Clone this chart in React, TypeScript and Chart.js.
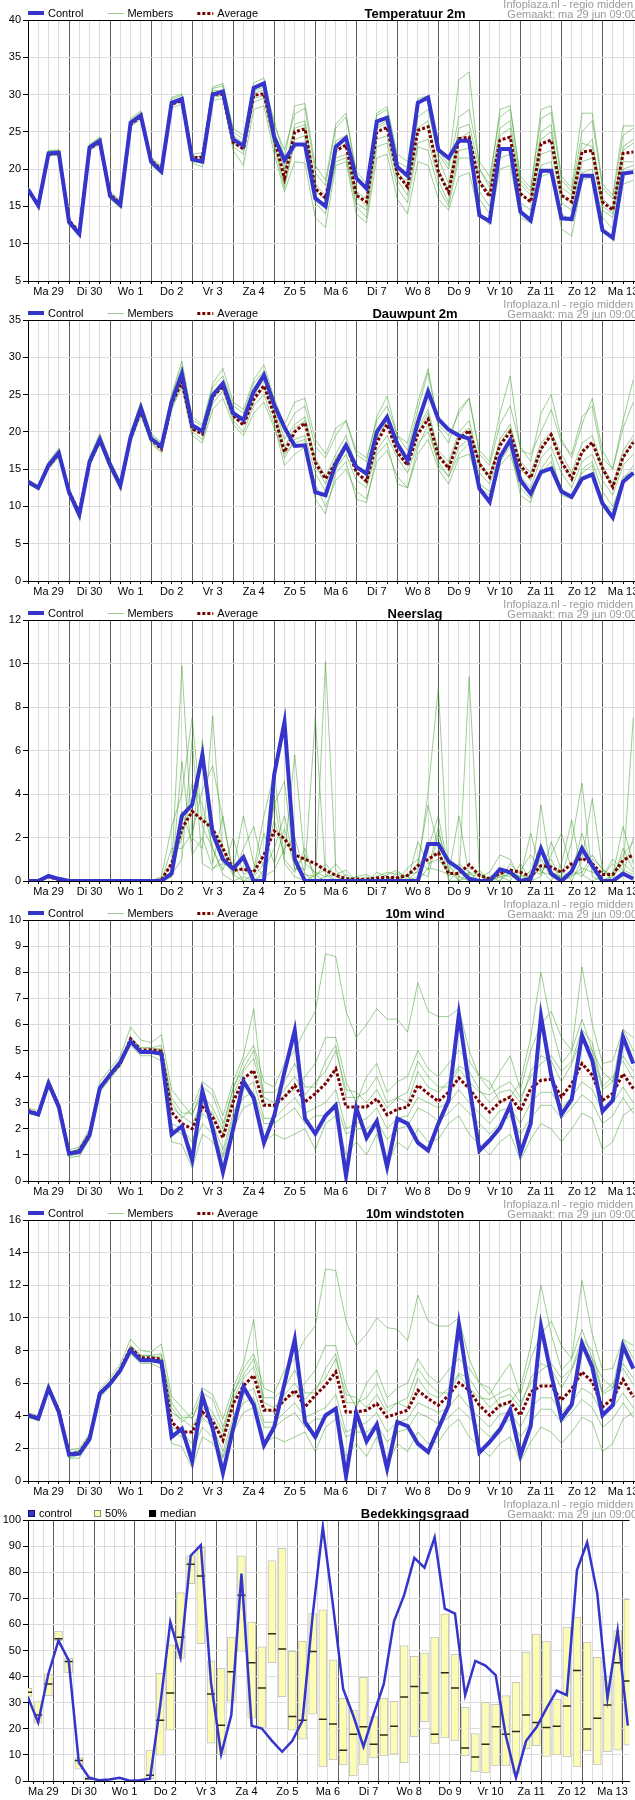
import React, { useEffect, useRef } from "react";
import { Chart, registerables } from "chart.js";

Chart.register(...registerables);

const FONT = "'Liberation Sans', Arial, sans-serif";
Chart.defaults.font.family = FONT;
Chart.defaults.font.size = 11;
Chart.defaults.color = "#000";

// ---------- categories / ticks ----------
const DAY_LABELS = ["Ma 29", "Di 30", "Wo 1", "Do 2", "Vr 3", "Za 4", "Zo 5", "Ma 6", "Di 7", "Wo 8", "Do 9", "Vr 10", "Za 11", "Zo 12", "Ma 13"];
const STEP_H = 6;
const X_MAX_H = 355;
const HOURS = Array.from({ length: 60 }, (_, i) => i * STEP_H);
const LINE_TICKS = Array.from({ length: 60 }, (_, i) => i * STEP_H);
const CLOUD_TICKS = Array.from({ length: 59 }, (_, i) => 3 + i * STEP_H);

// ---------- Temperatuur 2m ----------
const T_CONTROL = [17.3,15.1,22.1,22.2, 12.9,11.3,22.9,23.8, 16.4,15.2,26.2,27.2, 21.0,19.7,28.9,29.4, 21.3,21.0,30.0,30.4, 24.0,23.1,30.9,31.5, 24.3,21.2,23.3,23.3, 16.1,15.0,23.0,24.2, 18.8,17.4,26.4,26.9, 20.3,19.1,28.9,29.6, 22.6,21.5,23.8,23.8, 13.8,13.0,22.7,22.7, 14.3,13.1,19.8,19.8, 13.4,13.3,19.1,19.1, 11.8,10.8,19.4,19.6];
const T_AVG = [17.2,15.2,22.0,22.1, 13.1,11.6,22.8,23.6, 16.6,15.4,26.0,27.0, 21.2,19.9,28.7,29.2, 21.5,21.6,30.1,30.0, 23.6,22.7,29.9,30.1, 24.1,18.8,25.0,25.4, 17.4,16.1,22.5,23.2, 16.5,15.6,25.0,25.6, 19.4,17.6,25.2,25.7, 19.6,16.9,24.1,24.3, 18.3,16.3,23.9,24.3, 16.7,15.6,23.4,23.9, 16.5,15.6,22.3,22.5, 15.6,14.5,22.1,22.3];
const T_M1 = [17.5,15.3,22.4,22.5, 13.2,11.6,23.2,24.2, 16.8,15.6,26.6,27.6, 21.4,20.2,29.4,29.9, 21.8,21.6,30.8,31.2, 25.0,24.0,31.6,32.2, 25.8,22.6,27.4,28.2, 19.5,17.8,25.5,27.0, 19.8,18.0,27.2,28.0, 21.0,20.2,29.0,29.4, 22.0,20.0,27.0,28.0, 21.0,19.0,27.0,28.0, 19.0,17.5,26.8,27.6, 18.5,17.0,25.0,26.5, 17.5,16.0,24.5,25.5];
const T_M2 = [17.0,14.9,21.8,21.9, 12.6,11.0,22.5,23.3, 16.0,14.8,25.7,26.7, 20.6,19.3,28.2,28.7, 20.8,20.3,29.2,29.5, 22.5,20.5,28.0,28.5, 22.0,17.0,21.0,20.8, 13.5,12.2,20.5,21.0, 14.0,12.8,21.5,22.0, 16.0,14.0,21.0,20.5, 16.0,14.5,19.0,19.5, 14.0,12.5,20.0,20.5, 13.5,12.8,19.0,19.5, 12.0,11.0,18.5,19.0, 12.0,10.5,18.0,18.5];
const T_M3 = [17.4,15.2,22.2,22.3, 13.0,11.4,23.0,23.9, 16.5,15.3,26.3,27.3, 21.2,19.8,29.1,29.6, 21.6,21.8,30.5,30.6, 24.5,23.5,30.5,31.0, 24.8,20.0,26.0,26.5, 18.0,16.5,23.8,24.5, 17.0,16.0,25.8,26.5, 19.8,17.5,25.5,26.5, 20.0,17.0,24.0,25.0, 18.5,16.8,24.5,25.5, 17.0,15.5,24.0,25.0, 17.5,16.5,23.5,23.0, 16.0,14.8,22.5,23.5];
const T_M4 = [17.1,15.0,21.9,22.0, 12.8,11.2,22.7,23.6, 16.2,15.0,26.0,27.0, 20.8,19.5,28.6,29.1, 21.0,20.8,29.6,29.9, 23.0,22.0,29.5,29.8, 23.5,18.0,24.0,24.5, 16.5,15.0,21.5,22.0, 15.5,14.5,24.0,24.5, 18.5,16.5,23.5,24.0, 18.5,15.5,22.5,22.8, 17.0,15.0,22.5,23.0, 15.5,14.5,22.0,22.5, 15.5,14.5,21.0,21.5, 14.5,13.5,21.0,21.0];
const T_M5 = [17.3,15.1,22.0,22.1, 12.9,11.3,22.8,23.7, 16.3,15.1,26.1,27.1, 21.0,19.6,28.8,29.3, 21.3,21.2,30.2,30.3, 24.0,23.0,30.2,30.6, 25.0,19.5,25.5,26.0, 17.0,16.0,22.5,23.5, 16.5,15.0,25.5,26.2, 19.0,18.5,27.0,28.0, 21.5,18.0,25.5,26.0, 20.0,17.5,25.5,26.5, 18.0,16.5,25.0,26.0, 16.5,15.5,22.5,24.0, 15.0,14.0,23.0,24.0];
const T_M6 = [17.2,15.0,22.1,22.2, 12.8,11.2,22.9,23.8, 16.4,15.2,26.2,27.2, 21.0,19.7,28.9,29.3, 21.2,20.8,29.8,30.1, 23.5,22.5,29.0,29.5, 23.0,17.5,23.5,23.0, 15.5,14.0,21.0,21.5, 15.0,13.5,23.0,23.5, 17.5,15.5,23.0,22.5, 17.5,15.0,21.5,21.5, 16.0,14.0,21.5,22.0, 14.5,13.5,20.5,21.0, 14.0,13.0,19.5,20.0, 13.5,12.0,20.0,20.5];
const T_M7 = [17.6,15.4,22.5,22.6, 13.3,11.7,23.3,24.3, 17.0,15.8,26.8,27.8, 21.6,20.4,29.6,30.1, 22.0,22.2,31.0,31.5, 25.5,24.5,31.0,31.5, 26.5,21.5,28.5,28.8, 20.5,18.5,26.0,27.5, 19.0,17.0,27.5,28.4, 22.0,21.0,29.5,29.8, 22.5,20.5,32.0,33.0, 20.0,18.0,28.0,28.5, 18.5,17.0,28.0,28.5, 19.0,17.5,27.5,27.5, 18.0,16.5,25.8,25.8];

// ---------- Dauwpunt 2m ----------
const D_CONTROL = [13.3,12.5,15.5,17.2, 11.9,8.9,16.0,19.0, 15.6,12.8,19.3,23.2, 19.1,18.0,24.0,27.8, 20.9,20.1,24.9,26.5, 22.5,21.6,25.4,27.6, 23.6,20.6,18.1,18.2, 11.9,11.5,15.7,18.2, 15.3,14.4,20.0,22.0, 18.4,16.2,21.3,25.4, 21.7,20.3,19.5,19.1, 12.4,10.6,16.6,18.9, 13.5,11.7,14.6,15.1, 12.0,11.3,13.7,14.3, 10.4,8.5,13.3,14.5];
const D_AVG = [13.2,12.6,15.4,17.0, 12.0,9.2,15.9,18.8, 15.5,13.0,19.1,22.8, 19.0,17.7,23.8,26.7, 20.4,19.7,24.7,26.1, 22.2,20.9,24.4,26.2, 22.2,17.3,20.0,21.2, 15.9,13.7,15.9,18.3, 14.6,13.4,18.6,21.0, 17.3,15.5,19.7,21.7, 16.8,15.1,19.0,20.2, 15.7,13.9,18.2,20.0, 15.5,13.8,17.7,19.6, 16.0,13.7,17.3,18.6, 15.1,12.6,16.6,18.6];
const D_M1 = [13.5,12.7,15.8,17.6, 12.2,9.2,16.4,19.5, 16.0,13.2,19.8,23.8, 19.6,18.4,24.8,28.8, 21.6,20.8,26.0,27.5, 23.5,22.5,26.5,28.2, 24.0,20.0,22.5,23.5, 18.0,16.5,19.5,21.5, 17.0,16.0,22.0,24.8, 19.5,17.5,23.0,28.0, 20.5,18.5,23.0,24.5, 17.0,15.5,21.0,23.5, 18.0,16.0,22.5,25.0, 19.0,16.5,21.0,24.5, 17.5,15.0,20.5,24.0];
const D_M2 = [13.1,12.3,15.2,16.8, 11.6,8.6,15.6,18.5, 15.2,12.4,18.8,22.5, 18.6,17.4,23.2,26.5, 20.0,19.0,23.8,25.5, 21.5,20.0,23.5,25.0, 21.0,15.5,17.0,18.0, 13.0,10.0,13.5,15.0, 12.0,11.0,16.0,17.5, 14.0,12.5,17.0,19.0, 15.0,13.0,16.5,17.0, 13.0,12.0,15.5,17.0, 12.5,11.0,14.5,16.0, 12.5,11.0,15.0,16.0, 12.0,10.0,13.5,15.5];
const D_M3 = [13.4,12.6,15.6,17.4, 12.0,9.0,16.2,19.2, 15.8,13.0,19.5,23.5, 19.3,18.2,24.3,28.0, 21.0,20.3,25.2,26.8, 22.8,21.8,25.5,27.8, 23.5,19.0,21.0,22.0, 16.5,14.0,17.0,19.5, 15.5,14.0,19.5,22.0, 18.0,16.0,20.5,23.0, 17.5,16.0,20.0,21.5, 16.0,14.0,19.0,21.0, 16.0,14.5,18.5,20.0, 17.0,14.5,18.5,19.5, 15.5,13.0,17.5,19.5];
const D_M4 = [13.2,12.4,15.3,17.0, 11.8,8.8,15.8,18.8, 15.4,12.6,19.0,22.8, 18.9,17.8,23.6,27.0, 20.5,19.5,24.5,26.0, 22.0,21.0,24.0,26.0, 22.5,16.5,19.0,19.5, 14.5,12.0,15.0,17.0, 13.5,12.5,17.5,19.5, 16.5,14.5,18.5,20.0, 16.0,14.0,18.0,19.0, 14.5,13.0,17.0,18.5, 14.0,12.5,16.5,18.0, 14.5,12.5,16.0,17.0, 13.5,11.5,15.5,17.0];
const D_M5 = [13.3,12.5,15.5,17.2, 11.9,8.9,16.0,19.0, 15.6,12.8,19.3,23.2, 19.1,18.0,24.0,27.5, 20.8,20.0,25.0,26.5, 22.5,21.5,24.8,27.0, 23.0,18.0,20.5,21.5, 15.5,13.0,16.5,18.5, 14.5,13.0,19.0,21.5, 17.0,15.5,20.0,22.5, 17.0,15.5,19.5,20.5, 15.5,14.0,18.5,20.5, 15.0,13.5,17.5,19.5, 16.0,14.0,17.0,18.5, 15.0,12.5,16.5,19.0];
const D_M6 = [13.0,12.2,15.0,16.6, 11.5,8.4,15.4,18.4, 15.0,12.2,18.6,22.2, 18.4,17.2,23.0,26.0, 19.5,18.5,23.0,24.5, 21.0,19.5,22.5,24.0, 20.5,17.0,18.5,19.0, 11.0,9.0,14.5,16.0, 11.0,10.5,17.0,18.5, 13.0,12.5,18.0,21.0, 15.5,14.0,17.0,18.5, 12.5,11.5,16.0,18.0, 11.5,10.5,15.0,17.0, 11.5,11.0,14.5,15.5, 10.5,9.5,14.0,14.5];
const D_M7 = [13.6,12.8,16.0,17.8, 12.4,9.4,16.6,19.8, 16.2,13.4,20.0,24.0, 19.8,18.6,25.0,29.5, 22.0,21.0,26.5,28.5, 24.0,23.0,27.0,29.0, 24.5,21.0,24.0,24.5, 19.0,17.0,20.5,21.5, 17.5,16.5,21.5,23.5, 19.5,18.5,24.0,28.5, 21.0,19.5,22.5,24.5, 17.5,16.0,22.5,27.5, 17.5,17.0,20.0,23.0, 18.5,17.0,22.0,23.5, 16.5,15.0,21.5,27.0];

// ---------- Neerslag ----------
const P_CONTROL = [0,0,0.23,0.1, 0,0,0,0, 0,0,0,0, 0,0,0.34,3.0, 3.5,5.8,2.2,1.0, 0.57,1.1,0,0, 4.9,7.3,1.0,0, 0,0,0,0, 0,0,0,0, 0,0,0,1.7, 1.7,0.9,0.57,0.1, 0,0,0.54,0.4, 0,0.1,1.5,0.34, 0,0.44,1.5,0.7, 0,0,0.34,0.1];
const P_AVG = [0,0,0.2,0.05, 0,0,0,0, 0,0,0,0, 0,0.05,0.8,2.4, 3.2,2.8,2.4,1.5, 0.5,0.55,0.4,1.2, 2.3,1.95,1.2,1.0, 0.8,0.5,0.26,0.1, 0.08,0.08,0.14,0.17, 0.15,0.26,0.7,1.0, 1.3,0.34,0.34,0.75, 0.26,0.1,0.34,0.5, 0.4,0.2,0.7,0.65, 0.4,0.8,1.05,0.8, 0.3,0.3,0.95,1.2];
const P_M1 = [0,0,0.2,0.1, 0,0,0,0, 0,0,0,0, 0,0,0.5,9.9, 2.0,1.5,7.6,1.0, 0.3,0,0,0.5, 1.5,3.0,0.8,0.5, 7.5,0.3,0,0, 0,0,0,0.3, 0.5,0,0.2,1.5, 3.0,0.5,0,0.4, 0,0,0.2,0, 0.8,0,3.5,0.4, 0.2,1.8,4.5,0.2, 0,0.3,2.5,0.8];
const P_M2 = [0,0,0.15,0.05, 0,0,0,0, 0,0,0,0, 0,0.2,2.5,4.0, 7.5,2.5,1.5,0.5, 2.0,0.3,0.5,3.0, 5.0,1.0,0.4,1.5, 0,10.1,0.5,0, 0.2,0,0,0, 0,0.6,1.0,0.5, 2.5,0,0,9.4, 0.4,0,0,0.8, 0.3,0,0.2,1.8, 0.5,0,1.0,3.8, 0.5,0,0.4,7.5];
const P_M3 = [0,0,0.25,0.1, 0,0,0,0, 0,0,0,0, 0,0,1.5,1.5, 2.2,4.2,5.3,2.8, 0.4,0.6,0.2,0.8, 2.8,1.2,5.8,0.8, 0.4,0.2,0.8,0.2, 0,0,0.4,0.2, 0,0,0.5,4.1, 8.9,0,0.5,0.3, 0.2,0.4,1.2,1.0, 0,0.5,0.3,1.2, 2.2,0.5,0.2,1.0, 0.6,0,1.5,0.5];
const P_M4 = [0,0,0.2,0.1, 0,0,0,0, 0,0,0,0, 0,0,0.2,3.2, 1.8,6.5,0.8,3.0, 0.2,1.5,2.5,0.5, 3.5,4.6,0.5,1.2, 0.3,0.5,0,0.3, 0,0.2,0,0, 0.2,0,1.8,0.8, 1.0,0.4,0.2,0, 0.5,0,0.3,0.2, 0.5,1.2,0.5,0, 0.8,2.8,0.3,0, 0.2,0.8,0.3,2.0];
const P_M5 = [0,0,0.2,0.05, 0,0,0,0, 0,0,0,0, 0,0,0.3,1.0, 6.5,0.8,0.5,1.2, 0.8,0,0.3,2.2, 0.8,2.4,0.6,0.3, 0.2,0.8,0.2,0, 0,0,0.2,0.4, 0.3,0.2,0,0.6, 0.5,0.3,3.0,0.2, 0,0.2,0.5,0.3, 0.2,0.4,1.0,0.2, 0,0.2,0.6,0.4, 0.2,1.0,0.5,0.3];
const P_M6 = [0,0,0.2,0.1, 0,0,0,0, 0,0,0,0, 0,0.1,0.8,2.0, 4.5,3.5,1.5,0.3, 0,0.2,0,0.3, 3.8,0.8,0.2,0, 0.3,0,0,0, 0.2,0.3,0,0.2, 0,0.3,0.4,0.2, 2.2,0.8,0,0.2, 0,0.2,0,0.4, 0.2,2.2,0.4,0.3, 0.2,0.4,2.2,0.6, 0,0.2,0.8,0.4];
const P_M7 = [0,0,0.2,0.1, 0,0,0,0, 0,0,0,0, 0,0,0.2,5.5, 1.2,2.0,0.6,0.8, 0.6,3.0,0.8,0.2, 0.5,1.5,2.0,0.3, 0,0.2,0.3,0.5, 0,0,0,0, 0.4,0.2,0.8,3.5, 1.5,0.2,0.8,0.4, 0.3,0,0.2,0.3, 0,0.3,0.5,1.0, 0,0.3,0.4,1.2, 0.5,0.3,1.2,1.8];

// ---------- 10m wind ----------
const W_CONTROL = [2.67,2.55,3.75,2.84, 1.05,1.11,1.75,3.56, 4.07,4.56,5.35,4.94, 4.94,4.88,1.78,2.1, 0.8,3.44,2.0,0.34, 2.0,3.82,3.18,1.46, 2.5,4.18,5.77,2.39, 1.81,2.5,2.9,0.19, 2.8,1.65,2.29,0.54, 2.39,2.2,1.47,1.17, 2.2,3.09,6.37,3.67, 1.17,1.56,2.03,2.9, 1.07,2.2,6.32,4.05, 2.55,3.13,5.58,4.62, 2.67,3.09,5.52,4.5];
const W_AVG = [2.7,2.58,3.73,2.9, 1.05,1.17,1.81,3.54, 4.05,4.5,5.45,5.0, 5.03,4.97,2.64,2.2, 2.0,2.84,2.45,1.65, 3.03,3.92,4.24,2.9, 2.9,3.22,3.67,3.03, 3.35,3.73,4.3,2.84, 2.84,2.84,3.15,2.54, 2.75,2.84,3.67,3.35, 3.05,3.41,3.95,3.54, 3.03,2.64,3.03,3.22, 2.7,3.54,3.86,3.9, 3.22,3.73,4.5,4.05, 3.09,3.35,4.11,3.54];
const W_M1 = [2.8,2.7,3.9,3.0, 1.2,1.3,2.0,3.8, 4.3,4.8,5.9,5.4, 5.3,5.6,3.5,3.0, 2.5,3.6,3.3,2.2, 3.5,4.6,5.2,3.8, 3.6,4.5,5.0,5.8, 6.5,8.7,8.6,6.5, 5.5,6.0,6.6,6.2, 6.2,5.7,7.6,6.5, 6.3,6.3,6.6,5.0, 4.0,3.5,4.2,4.8, 3.5,5.0,6.0,6.5, 5.5,5.0,6.2,5.0, 4.2,3.8,5.8,5.5];
const W_M2 = [2.6,2.5,3.6,2.75, 0.9,0.95,1.6,3.4, 3.9,4.4,5.2,4.8, 4.8,4.6,1.5,1.4, 0.5,1.8,1.5,0.9, 2.0,2.8,3.0,1.5, 1.8,1.6,1.8,2.0, 1.2,2.2,2.5,1.0, 1.5,1.0,1.8,0.6, 1.5,1.2,2.0,1.5, 1.6,2.2,2.5,1.8, 1.4,1.0,1.5,1.8, 0.8,1.6,2.2,2.0, 1.5,2.0,2.6,2.4, 1.2,1.5,2.5,2.8];
const W_M3 = [2.7,2.6,3.8,2.9, 1.1,1.2,1.8,3.6, 4.1,4.6,5.5,5.1, 5.1,5.0,2.8,2.5, 2.2,3.0,2.6,1.8, 3.3,4.2,4.7,3.2, 3.0,3.5,4.0,3.3, 3.8,4.2,5.0,3.5, 3.4,3.0,3.5,2.8, 3.2,3.0,4.2,3.6, 3.4,3.8,4.4,4.2, 3.5,3.0,3.4,3.5, 3.0,4.2,4.8,4.6, 3.8,4.5,5.5,5.0, 3.5,3.8,4.8,4.2];
const W_M4 = [2.65,2.55,3.7,2.85, 1.0,1.1,1.75,3.5, 4.0,4.5,5.4,5.0, 5.0,4.9,2.2,2.0, 1.5,2.6,2.2,1.2, 2.6,3.5,3.8,2.4, 2.4,2.8,3.2,2.6, 2.8,3.0,3.5,2.0, 2.2,2.4,2.8,2.0, 2.4,2.5,3.2,3.0, 2.8,3.0,3.5,3.0, 2.6,2.2,2.7,2.8, 2.2,3.0,3.4,3.4, 2.8,3.2,3.8,3.5, 2.7,3.0,3.6,3.0];
const W_M5 = [2.75,2.6,3.8,2.95, 1.1,1.25,1.9,3.6, 4.1,4.5,5.5,5.1, 5.1,5.2,3.2,2.6, 2.6,3.3,2.8,2.0, 3.6,4.3,5.0,3.4, 3.4,3.8,4.5,3.6, 3.6,4.6,5.2,3.2, 3.2,3.4,4.0,3.0, 3.2,3.4,4.6,4.0, 3.6,3.6,4.3,3.8, 3.4,3.3,3.6,3.8, 3.2,4.0,4.5,4.8, 4.2,4.6,5.8,5.3, 3.6,4.0,4.6,3.9];
const W_M6 = [2.6,2.5,3.65,2.8, 0.95,1.05,1.7,3.5, 4.0,4.4,5.3,4.9, 4.9,4.8,2.0,1.8, 1.2,2.2,1.8,1.0, 2.4,3.2,3.4,2.2, 2.2,2.5,2.8,2.2, 2.5,2.5,3.0,1.8, 2.0,2.0,2.3,1.6, 2.0,2.1,2.8,2.6, 2.3,2.6,3.0,2.6, 2.2,1.8,2.2,2.5, 1.8,2.4,2.9,2.9, 2.4,2.8,3.3,3.0, 2.2,2.5,3.2,2.6];
const W_M7 = [2.7,2.6,3.75,2.9, 1.05,1.15,1.85,3.55, 4.05,4.5,5.4,5.0, 5.0,5.1,3.0,2.4, 2.8,3.8,3.5,2.5, 3.8,4.8,6.6,3.0, 2.8,3.3,3.5,4.0, 4.5,5.5,5.5,3.8, 3.0,4.0,4.5,3.4, 3.8,4.0,5.0,4.3, 4.0,4.5,5.0,4.6, 4.0,3.8,3.0,3.2, 3.8,5.5,8.0,6.0, 4.5,5.0,8.2,6.0, 4.5,4.6,5.8,5.0];

// ---------- 10m windstoten ----------
const G_CONTROL = [4.03,3.82,5.7,4.23, 1.62,1.68,2.56,5.36, 5.97,6.79,8.02,7.4, 7.4,7.3,2.7,3.21, 1.21,5.21,3.21,0.49, 3.21,5.77,4.68,2.19, 3.31,5.97,8.67,3.62, 2.7,4.03,4.44,0.29, 4.19,2.43,3.46,0.76, 3.62,3.37,2.29,1.78, 3.21,4.64,9.59,5.46, 1.74,2.39,3.15,4.38, 1.57,3.37,9.51,6.52, 3.82,4.68,8.43,6.99, 4.03,4.64,8.28,6.89];
const G_AVG = [4.07,3.86,5.66,4.34, 1.68,1.74,2.64,5.36, 5.97,6.85,8.16,7.55, 7.55,7.46,3.62,3.0, 3.0,4.23,3.66,2.49, 4.74,5.83,6.48,4.34, 4.34,4.95,5.56,4.54, 5.26,5.87,6.69,4.23, 4.23,4.34,4.74,3.93, 4.13,4.34,5.56,5.05, 4.64,5.26,6.03,5.56, 4.64,4.03,4.64,4.85, 4.03,5.46,5.83,5.83, 4.95,5.66,6.69,6.07, 4.54,5.05,6.22,5.15];
const G_M1 = [4.2,4.0,5.9,4.5, 1.9,2.0,2.9,5.6, 6.3,7.2,8.7,8.0, 7.9,8.4,5.2,4.5, 3.8,5.4,5.0,3.3, 5.3,6.9,7.8,5.7, 5.4,6.8,7.5,8.7, 9.5,13.0,12.9,9.8, 8.3,9.0,10.0,9.4, 9.3,8.6,11.4,9.8, 9.5,9.5,10.0,7.5, 6.0,5.3,6.3,7.2, 5.3,7.5,9.0,9.8, 8.3,7.5,9.3,7.5, 6.3,5.7,8.7,8.3];
const G_M2 = [3.9,3.7,5.5,4.1, 1.4,1.4,2.4,5.1, 5.8,6.6,7.8,7.2, 7.2,6.9,2.3,2.1, 0.8,2.7,2.3,1.4, 3.0,4.2,4.5,2.3, 2.7,2.4,2.7,3.0, 1.8,3.3,3.8,1.5, 2.3,1.5,2.7,0.9, 2.3,1.8,3.0,2.3, 2.4,3.3,3.8,2.7, 2.1,1.5,2.3,2.7, 1.2,2.4,3.3,3.0, 2.3,3.0,3.9,3.6, 1.8,2.3,3.8,4.2];
const G_M3 = [4.1,3.9,5.8,4.4, 1.7,1.8,2.7,5.4, 6.1,6.9,8.3,7.7, 7.7,7.5,4.2,3.8, 3.3,4.5,3.9,2.7, 5.0,6.3,7.0,4.8, 4.5,5.3,6.0,5.0, 5.7,6.3,7.5,5.3, 5.1,4.5,5.3,4.2, 4.8,4.5,6.3,5.4, 5.1,5.7,6.6,6.3, 5.3,4.5,5.1,5.3, 4.5,6.3,7.2,6.9, 5.7,6.8,8.3,7.5, 5.3,5.7,7.2,6.3];
const G_M4 = [4.0,3.8,5.6,4.3, 1.6,1.7,2.6,5.3, 6.0,6.8,8.1,7.5, 7.5,7.4,3.3,3.0, 2.3,3.9,3.3,1.8, 3.9,5.3,5.7,3.6, 3.6,4.2,4.8,3.9, 4.2,4.5,5.3,3.0, 3.3,3.6,4.2,3.0, 3.6,3.8,4.8,4.5, 4.2,4.5,5.3,4.5, 3.9,3.3,4.1,4.2, 3.3,4.5,5.1,5.1, 4.2,4.8,5.7,5.3, 4.1,4.5,5.4,4.5];
const G_M5 = [4.1,3.9,5.7,4.4, 1.7,1.9,2.8,5.4, 6.1,6.8,8.3,7.7, 7.7,7.8,4.8,3.9, 3.9,5.0,4.2,3.0, 5.4,6.5,7.5,5.1, 5.1,5.7,6.8,5.4, 5.4,6.9,7.8,4.8, 4.8,5.1,6.0,4.5, 4.8,5.1,6.9,6.0, 5.4,5.4,6.5,5.7, 5.1,5.0,5.4,5.7, 4.8,6.0,6.8,7.2, 6.3,6.9,8.7,8.0, 5.4,6.0,6.9,5.9];
const G_M6 = [3.9,3.75,5.5,4.2, 1.4,1.6,2.55,5.25, 6.0,6.6,8.0,7.35, 7.35,7.2,3.0,2.7, 1.8,3.3,2.7,1.5, 3.6,4.8,5.1,3.3, 3.3,3.8,4.2,3.3, 3.8,3.8,4.5,2.7, 3.0,3.0,3.5,2.4, 3.0,3.2,4.2,3.9, 3.5,3.9,4.5,3.9, 3.3,2.7,3.3,3.8, 2.7,3.6,4.4,4.4, 3.6,4.2,5.0,4.5, 3.3,3.8,4.8,3.9];
const G_M7 = [4.05,3.9,5.6,4.35, 1.6,1.7,2.8,5.3, 6.1,6.8,8.1,7.5, 7.5,7.7,4.5,3.6, 4.2,5.7,5.3,3.8, 5.7,7.2,9.9,4.5, 4.2,5.0,5.3,6.0, 6.8,8.3,8.3,5.7, 4.5,6.0,6.8,5.1, 5.7,6.0,7.5,6.5, 6.0,6.8,7.5,6.9, 6.0,5.7,4.5,4.8, 5.7,8.3,12.0,9.0, 6.8,7.5,12.3,9.0, 6.8,6.9,8.7,7.5];

// ---------- Bedekkingsgraad ----------
const C_CONTROL = [32,22.4,41,53.8, 46.2,7.1,1.3,0.3, 0.6,1.2,0.1,0.3, 0.9,28.8,60.9,47.4, 86.3,90.4,37.8,10.3, 25.3,79.5,21.2,20.1, 15.4,11.2,15.4,23.1, 63.5,97.4,67.3,35.3, 25,13.2,25.6,37.2, 61.2,71.2,85.5,81.7, 93.3,66,64.1,32.9, 46,44.2,40.6,17.3, 1.3,15.4,20.5,27.8, 34.6,32.9,80.8,91.4, 71.8,31.7,57.6,21.2];
const C_LOW = [32.4,22.2,32.7,53.8, 41.4,4.5,0.4,null, null,null,null,null, 0.9,9.9,19.5,47, 75.6,52.6,14.5,10.1, 30.6,49.6,24.1,20.5, 45.3,32.3,19.5,16, 25.6,5.4,8.1,6.2, 1.9,6.2,8.8,9.6, 10.3,6.9,17,22.7, 14.2,16.5,15.4,9.6, 3.6,3.1,5.8,5.8, 2.9,12.4,13.5,9.4, 10,9.2,5.4,11.5, 6.2,11.2,11.8,13.7];
const C_HIGH = [35.5,30.4,41,57.4, 47,9,1.7,null, null,null,null,null, 11.8,41.3,52.2,72.2, 86.3,89.5,46,43.3, 55.1,86.3,60.9,51.4, 84.5,89.1,49.7,53.6, 64.1,65.6,46.4,31.7, 27.2,39.7,24.7,31.7, 30.5,51.9,47.8,49.1, 55.1,64,48.6,28.2, 18.2,30.1,29.4,32.7, 37.8,49.4,56.3,53.6, 31.4,59,62.8,53.2, 47.4,40.1,57.6,69.6];
const C_MEDIAN = [34,25.3,37.2,54.5, 45.8,7.9,0.9,null, null,null,null,null, 2.2,23.3,33.7,55.1, 83,78.5,33.3,21.4, 41.9,71.2,45.3,35.6, 56.4,50.6,24.7,23.3, 49.6,23.7,21.8,11.8, 17.9,20.8,14.1,17.6, 21,32.2,36.2,33.7, 17.9,41.5,35.6,12.6, 9.2,14.1,20.8,17.9, 19,25.3,22.4,20.5, 21,28.7,42.3,19.9, 24,29.1,45.3,38.3];

// ---------- styles ----------
const W = 635;
const H = 300;
const PLOT_TOP = 20;
const Y_AXIS_W = 28;
const X_AXIS_H = 19;
const CONTROL_COLOR = "#3535cc";
const MEMBER_COLOR = "rgba(60,160,40,0.5)";
const MEMBER_LEGEND = "rgba(60,160,40,0.55)";
const AVG_COLOR = "#7a0000";
const MINOR_GRID = "#dcdcdc";
const MAJOR_GRID = "#5e5e5e";
const BOX_FILL = "#fcfcb4";
const BOX_BORDER = "#c4c4c4";
const MEDIAN_COLOR = "#2b2b10";

const toXY = (vals: (number | null)[]) => vals.map((v, i) => ({ x: HOURS[i], y: v }));

type Item = { label: string; kind: "line" | "box"; color: string; width?: number; dash?: number[]; border?: string };

function makeHeader(title: string, items: Item[]) {
  return {
    id: "header",
    afterDraw(chart: any) {
      const { ctx, chartArea: a } = chart;
      ctx.save();
      ctx.setLineDash([]);
      ctx.strokeStyle = "#000";
      ctx.lineWidth = 1;
      const ty = Math.round(a.top) + 0.5;
      ctx.beginPath();
      ctx.moveTo(a.left, ty);
      ctx.lineTo(a.right, ty);
      ctx.stroke();

      ctx.font = `11px ${FONT}`;
      ctx.textBaseline = "alphabetic";
      ctx.textAlign = "left";
      let x = 28;
      for (const it of items) {
        let tx: number;
        if (it.kind === "line") {
          const w = it.width || 1;
          const y = w % 2 ? 13.5 : 13;
          ctx.save();
          ctx.strokeStyle = it.color;
          ctx.lineWidth = w;
          ctx.setLineDash(it.dash || []);
          ctx.beginPath();
          ctx.moveTo(x, y);
          ctx.lineTo(x + 16, y);
          ctx.stroke();
          ctx.restore();
          tx = x + 20;
        } else {
          ctx.fillStyle = it.color;
          ctx.fillRect(x, 10, 7, 7);
          ctx.strokeStyle = it.border || it.color;
          ctx.lineWidth = 1;
          ctx.strokeRect(x + 0.5, 10.5, 6, 6);
          tx = x + 11;
        }
        ctx.fillStyle = "#000";
        ctx.fillText(it.label, tx, 17);
        x = tx + ctx.measureText(it.label).width + (it.kind === "line" ? 24 : 22);
      }

      ctx.font = `bold 13px ${FONT}`;
      ctx.textAlign = "center";
      ctx.fillStyle = "#000";
      ctx.fillText(title, 415, 18);

      ctx.font = `11px ${FONT}`;
      ctx.fillStyle = "#9a9a9a";
      ctx.textAlign = "right";
      ctx.fillText("Infoplaza.nl - regio midden", 633, 7.5);
      ctx.fillText("Gemaakt: ma 29 jun 09:00", 637, 17.5);
      ctx.restore();
    },
  };
}

function xScale(tickHours: number[], labelHour: number, majorHour: number) {
  return {
    type: "linear",
    min: 0,
    max: X_MAX_H,
    offset: false,
    afterBuildTicks: (s: any) => {
      s.ticks = tickHours.map((v) => ({ value: v }));
    },
    afterFit: (s: any) => {
      s.height = X_AXIS_H;
    },
    ticks: {
      autoSkip: false,
      maxRotation: 0,
      minRotation: 0,
      padding: 1,
      color: "#000",
      font: { family: FONT, size: 11 },
      callback: (v: number) => {
        const d = (v - labelHour) / 24;
        return Number.isInteger(d) && d >= 0 && d < DAY_LABELS.length ? DAY_LABELS[d] : "";
      },
    },
    grid: {
      color: (c: any) => (c.tick && (c.tick.value - majorHour) % 24 === 0 ? MAJOR_GRID : MINOR_GRID),
      lineWidth: 1,
      tickLength: 3,
      tickColor: "#000",
      offset: false,
    },
    border: { color: "#000", width: 1 },
  };
}

function yScale(min: number, max: number, step: number) {
  return {
    min,
    max,
    ticks: { stepSize: step, padding: 2, color: "#000", font: { family: FONT, size: 11 } },
    grid: { color: MINOR_GRID, lineWidth: 1, tickLength: 5, tickColor: "#000" },
    border: { color: "#000", width: 1 },
    afterFit: (s: any) => {
      s.width = Y_AXIS_W;
    },
  };
}

const LINE_LEGEND: Item[] = [
  { label: "Control", kind: "line", color: CONTROL_COLOR, width: 4 },
  { label: "Members", kind: "line", color: MEMBER_LEGEND, width: 1 },
  { label: "Average", kind: "line", color: AVG_COLOR, width: 3, dash: [3, 2] },
];

function ensembleConfig(title: string, control: number[], avg: number[], members: number[][], min: number, max: number, step: number) {
  const datasets: any[] = members.map((m, k) => ({
    label: k === 0 ? "Members" : "Member " + (k + 1),
    data: toXY(m),
    borderColor: MEMBER_COLOR,
    borderWidth: 1,
    pointRadius: 0,
    order: 3,
  }));
  datasets.push({ label: "Average", data: toXY(avg), borderColor: AVG_COLOR, borderWidth: 3, borderDash: [3, 2], pointRadius: 0, order: 2 });
  datasets.push({ label: "Control", data: toXY(control), borderColor: CONTROL_COLOR, borderWidth: 4, pointRadius: 0, order: 1 });
  return {
    type: "line",
    data: { datasets },
    options: {
      responsive: false,
      animation: false,
      events: [],
      layout: { padding: { top: PLOT_TOP, left: 0, right: 0, bottom: 0 } },
      elements: { line: { tension: 0 } },
      plugins: { legend: { display: false }, tooltip: { enabled: false } },
      scales: { x: xScale(LINE_TICKS, 12, 0), y: yScale(min, max, step) },
    },
    plugins: [makeHeader(title, LINE_LEGEND)],
  };
}

function cloudConfig() {
  const boxes = HOURS.map((h, i) => (C_LOW[i] == null ? null : { x: h, y: [C_LOW[i], C_HIGH[i]] })).filter(Boolean);
  const medians = HOURS.map((h, i) => (C_MEDIAN[i] == null ? null : { x: h, y: C_MEDIAN[i] })).filter(Boolean);
  return {
    type: "bar",
    data: {
      datasets: [
        { type: "line", label: "control", data: toXY(C_CONTROL), borderColor: CONTROL_COLOR, borderWidth: 2.5, pointRadius: 0, order: 1 },
        {
          type: "line",
          label: "median",
          data: medians,
          showLine: false,
          pointStyle: "line",
          pointRadius: 4,
          pointBorderColor: MEDIAN_COLOR,
          pointBorderWidth: 1.5,
          order: 2,
        },
        {
          type: "bar",
          label: "50%",
          data: boxes,
          backgroundColor: BOX_FILL,
          borderColor: BOX_BORDER,
          borderWidth: 1,
          borderSkipped: false,
          barThickness: 8,
          order: 3,
        },
      ],
    },
    options: {
      responsive: false,
      animation: false,
      events: [],
      layout: { padding: { top: PLOT_TOP, left: 0, right: 0, bottom: 0 } },
      plugins: { legend: { display: false }, tooltip: { enabled: false } },
      scales: { x: xScale(CLOUD_TICKS, 9, 15), y: yScale(0, 100, 10) },
    },
    plugins: [
      makeHeader("Bedekkingsgraad", [
        { label: "control", kind: "box", color: CONTROL_COLOR, border: "#10106a" },
        { label: "50%", kind: "box", color: BOX_FILL, border: "#8a8a70" },
        { label: "median", kind: "box", color: "#000", border: "#000" },
      ]),
    ],
  };
}

const BUILDERS = [
  () => ensembleConfig("Temperatuur 2m", T_CONTROL, T_AVG, [T_M1, T_M2, T_M3, T_M4, T_M5, T_M6, T_M7], 5, 40, 5),
  () => ensembleConfig("Dauwpunt 2m", D_CONTROL, D_AVG, [D_M1, D_M2, D_M3, D_M4, D_M5, D_M6, D_M7], 0, 35, 5),
  () => ensembleConfig("Neerslag", P_CONTROL, P_AVG, [P_M1, P_M2, P_M3, P_M4, P_M5, P_M6, P_M7], 0, 12, 2),
  () => ensembleConfig("10m wind", W_CONTROL, W_AVG, [W_M1, W_M2, W_M3, W_M4, W_M5, W_M6, W_M7], 0, 10, 1),
  () => ensembleConfig("10m windstoten", G_CONTROL, G_AVG, [G_M1, G_M2, G_M3, G_M4, G_M5, G_M6, G_M7], 0, 16, 2),
  () => cloudConfig(),
];

function ChartPanel({ build }: { build: () => any }) {
  const ref = useRef<HTMLCanvasElement>(null);
  useEffect(() => {
    if (!ref.current) return;
    const chart = new Chart(ref.current, build());
    return () => chart.destroy();
  }, [build]);
  return <canvas ref={ref} width={W} height={H} style={{ display: "block", width: W, height: H }} />;
}

export default function App() {
  return (
    <div style={{ width: W, background: "#fff" }}>
      <style>{"html,body{margin:0;padding:0;background:#fff;}"}</style>
      {BUILDERS.map((b, i) => (
        <ChartPanel key={i} build={b} />
      ))}
    </div>
  );
}
